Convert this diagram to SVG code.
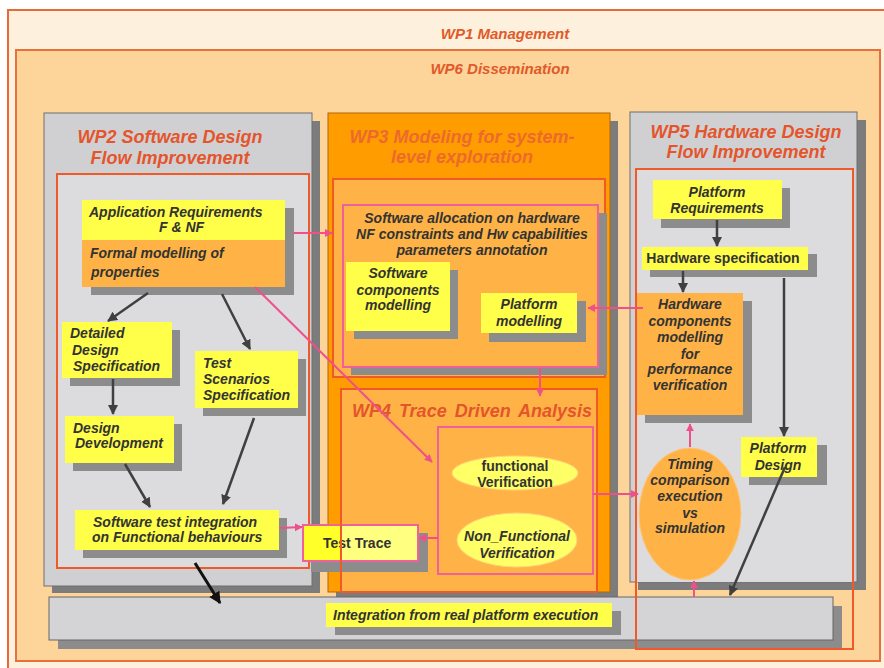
<svg xmlns="http://www.w3.org/2000/svg" width="884" height="668" viewBox="0 0 884 668">
  <defs>
    <marker id="ah" viewBox="0 0 10 10" refX="9" refY="5" markerWidth="4" markerHeight="4" orient="auto">
      <path d="M0,0 L10,5 L0,10 z" fill="#404040"/>
    </marker>
    <marker id="bh" viewBox="0 0 10 10" refX="9" refY="5" markerWidth="4" markerHeight="4" orient="auto">
      <path d="M0,0 L10,5 L0,10 z" fill="#111"/>
    </marker>
    <marker id="ph" viewBox="0 0 10 10" refX="9" refY="5" markerWidth="4" markerHeight="4" orient="auto">
      <path d="M0,0 L10,5 L0,10 z" fill="#f0508a"/>
    </marker>
  </defs>
  <style>
    text { font-family: "Liberation Sans", Arial, sans-serif; font-weight: bold; }
    .title { font-size: 18px; font-style: italic; fill: #e4552b; }
    .wp3t { fill: #ec6a2c; }
    .top { font-size: 15px; font-style: italic; fill: #e05a2a; }
    .lbl { font-size: 14px; font-style: italic; fill: #333; }
    .up { font-style: normal; }
    .mid { text-anchor: middle; }
    .sh { fill: #8c8c8c; }
    .bigsh { fill: #7c7c7c; }
    .yel { fill: #ffff4a; }
    .org { fill: #ffb347; }
    .gray { fill: #d0d0d2; stroke: #6e6e6e; stroke-width: 1; }
    .lgray { fill: #dcdcde; }
    .red { fill: none; stroke: #f05a28; stroke-width: 2; }
    .pink { fill: none; stroke: #f0609a; stroke-width: 2; }
    .arrow { stroke: #404040; stroke-width: 2.5; fill: none; marker-end: url(#ah); }
    .parrow { stroke: #f0508a; stroke-width: 2; fill: none; marker-end: url(#ph); }
  </style>

  <!-- WP1 / WP6 frames -->
  <g id="wp1">
    <rect x="8" y="10" width="880" height="670" fill="#fdf0dc" stroke="#e86a3a" stroke-width="2"/>
    <text class="top mid" x="505" y="39">WP1 Management</text>
  </g>
  <g id="wp6">
    <rect x="16" y="50" width="864" height="611" fill="#fdd49a" stroke="#e8703a" stroke-width="2"/>
    <text class="top mid" x="500" y="74">WP6 Dissemination</text>
  </g>

  <!-- WP2 -->
  <g id="wp2">
    <rect class="bigsh" x="52" y="121" width="268" height="472"/>
    <rect class="gray" x="44" y="113" width="268" height="473"/>
    <rect class="lgray" x="57" y="174" width="252" height="394"/>
    <rect class="red" x="57" y="174" width="252" height="394"/>
    <text class="title mid" x="170" y="143">WP2 Software Design</text>
    <text class="title mid" x="170" y="164">Flow Improvement</text>
  </g>

  <!-- WP3 -->
  <g id="wp3">
    <rect class="bigsh" x="336" y="121" width="282" height="479"/>
    <rect x="328" y="113" width="282" height="479" fill="#ff9c00" stroke="#b0660a" stroke-width="1"/>
    <text class="title wp3t mid" x="462" y="143">WP3 Modeling for system-</text>
    <text class="title wp3t mid" x="462" y="163">level exploration</text>
    <rect class="org" x="333" y="179" width="272" height="198"/>
    <rect class="red" x="333" y="179" width="272" height="198"/>
  </g>
  <g id="allocation">
    <rect class="sh" x="351" y="213" width="256" height="162"/>
    <rect class="org" x="343" y="205" width="255" height="162"/>
    <rect class="pink" x="343" y="205" width="255" height="162"/>
    <text class="lbl mid" x="472" y="223">Software allocation on hardware</text>
    <text class="lbl mid" x="472" y="239">NF constraints and Hw capabilities</text>
    <text class="lbl mid" x="472" y="255">parameters annotation</text>
  </g>

  <!-- WP4 -->
  <g id="wp4">
    <rect class="org" x="341" y="389" width="256" height="203"/>
    <text class="title mid" x="472" y="417" word-spacing="3">WP4 Trace Driven Analysis</text>
    <rect class="pink" x="438" y="427" width="155" height="147"/>
  </g>

  <!-- WP5 -->
  <g id="wp5">
    <rect class="bigsh" x="638" y="120" width="228" height="470"/>
    <rect class="gray" x="630" y="112" width="227" height="470"/>
    <rect class="lgray" x="636" y="169" width="217" height="413"/>
    <text class="title mid" x="746" y="138">WP5 Hardware Design</text>
    <text class="title mid" x="746" y="158">Flow Improvement</text>
  </g>

  <!-- Integration bar -->
  <g id="integration">
    <rect class="sh" x="58" y="606" width="784" height="43"/>
    <rect x="49" y="597" width="784" height="43" fill="#d4d4d6" stroke="#666" stroke-width="1"/>
    <rect class="sh" x="335" y="611" width="286" height="24"/>
    <rect class="yel" x="326" y="603" width="286" height="24"/>
    <text class="lbl" x="333" y="620">Integration from real platform execution</text>
  </g>

  <g id="wp5-frame">
    <rect class="red" x="636" y="169" width="217" height="480"/>
  </g>

  <!-- WP2 nodes -->
  <g id="app-req">
    <rect class="sh" x="91" y="208" width="203" height="87"/>
    <rect class="yel" x="82" y="200" width="203" height="40"/>
    <rect class="org" x="82" y="240" width="203" height="47"/>
    <text class="lbl" x="89" y="217">Application Requirements</text>
    <text class="lbl" x="159" y="232">F &amp; NF</text>
    <text class="lbl" x="90" y="258">Formal modelling of</text>
    <text class="lbl" x="91" y="277">properties</text>
  </g>
  <g id="detailed-design">
    <rect class="sh" x="70" y="330" width="110" height="56"/>
    <rect class="yel" x="62" y="322" width="110" height="56"/>
    <text class="lbl" x="70" y="338">Detailed</text>
    <text class="lbl" x="72" y="355">Design</text>
    <text class="lbl" x="73" y="371">Specification</text>
  </g>
  <g id="test-scenarios">
    <rect class="sh" x="203" y="359" width="103" height="57"/>
    <rect class="yel" x="195" y="351" width="103" height="57"/>
    <text class="lbl" x="203" y="368">Test</text>
    <text class="lbl" x="203" y="384">Scenarios</text>
    <text class="lbl" x="203" y="400">Specification</text>
  </g>
  <g id="design-dev">
    <rect class="sh" x="73" y="424" width="109" height="47"/>
    <rect class="yel" x="65" y="416" width="109" height="47"/>
    <text class="lbl" x="73" y="433">Design</text>
    <text class="lbl" x="75" y="448">Development</text>
  </g>
  <g id="sw-test">
    <rect class="sh" x="83" y="518" width="204" height="40"/>
    <rect class="yel" x="75" y="510" width="204" height="40"/>
    <text class="lbl" x="93" y="527">Software test integration</text>
    <text class="lbl" x="92" y="542">on Functional behaviours</text>
  </g>
  <g id="test-trace">
    <rect class="sh" x="311" y="533" width="117" height="39"/>
    <rect x="303" y="525" width="115" height="36" fill="#ffff80"/>
    <rect x="303" y="525" width="37" height="36" fill="#ffff2a"/>
    <rect class="pink" x="303" y="525" width="115" height="36"/>
    <text class="lbl up" x="323" y="548" fill="#111">Test Trace</text>
  </g>
  <g id="wp4-frame">
    <rect class="red" x="341" y="389" width="256" height="203"/>
  </g>

  <!-- WP3 nodes -->
  <g id="sw-components">
    <rect class="sh" x="354" y="270" width="104" height="69"/>
    <rect class="yel" x="346" y="262" width="104" height="69"/>
    <text class="lbl mid" x="398" y="278">Software</text>
    <text class="lbl mid" x="398" y="295">components</text>
    <text class="lbl mid" x="398" y="310">modelling</text>
  </g>
  <g id="platform-modelling">
    <rect class="sh" x="489" y="301" width="97" height="41"/>
    <rect class="yel" x="481" y="293" width="96" height="40"/>
    <text class="lbl mid" x="529" y="309">Platform</text>
    <text class="lbl mid" x="529" y="326">modelling</text>
  </g>

  <!-- WP4 nodes -->
  <g id="functional-ver">
    <ellipse cx="515" cy="473" rx="63" ry="17" fill="#ffff66" stroke="#ffd37a" stroke-width="1"/>
    <text class="lbl up mid" x="515" y="471">functional</text>
    <text class="lbl up mid" x="515" y="487">Verification</text>
  </g>
  <g id="nonfunctional-ver">
    <ellipse cx="517" cy="540" rx="60" ry="27" fill="#ffff66" stroke="#ffd37a" stroke-width="1"/>
    <text class="lbl mid" x="517" y="541">Non_Functional</text>
    <text class="lbl mid" x="517" y="558">Verification</text>
  </g>

  <!-- WP5 nodes -->
  <g id="platform-req">
    <rect class="sh" x="661" y="188" width="129" height="40"/>
    <rect class="yel" x="653" y="180" width="129" height="39"/>
    <text class="lbl mid" x="717" y="197">Platform</text>
    <text class="lbl mid" x="717" y="213">Requirements</text>
  </g>
  <g id="hw-spec">
    <rect class="sh" x="650" y="254" width="167" height="23"/>
    <rect class="yel" x="642" y="247" width="166" height="23"/>
    <text class="lbl up mid" x="723" y="263">Hardware specification</text>
  </g>
  <g id="hw-components">
    <rect class="sh" x="645" y="301" width="107" height="122"/>
    <rect class="org" x="637" y="293" width="106" height="122"/>
    <text class="lbl mid" x="690" y="309">Hardware</text>
    <text class="lbl mid" x="690" y="326">components</text>
    <text class="lbl mid" x="690" y="342">modelling</text>
    <text class="lbl mid" x="690" y="359">for</text>
    <text class="lbl mid" x="690" y="374">performance</text>
    <text class="lbl mid" x="690" y="390">verification</text>
  </g>
  <g id="timing">
    <ellipse cx="690" cy="514" rx="51" ry="66" fill="#ffb347" stroke="#ffc47a" stroke-width="1"/>
    <text class="lbl mid" x="690" y="469">Timing</text>
    <text class="lbl mid" x="690" y="485">comparison</text>
    <text class="lbl mid" x="690" y="501">execution</text>
    <text class="lbl mid" x="690" y="518">vs</text>
    <text class="lbl mid" x="690" y="533">simulation</text>
  </g>
  <g id="platform-design">
    <rect class="sh" x="749" y="445" width="78" height="40"/>
    <rect class="yel" x="741" y="437" width="76" height="40"/>
    <text class="lbl mid" x="778" y="453">Platform</text>
    <text class="lbl mid" x="778" y="470">Design</text>
  </g>

  <!-- Connectors -->
  <g id="connectors">
    <line class="arrow" x1="148" y1="293" x2="108" y2="321"/>
    <line class="arrow" x1="222" y1="294" x2="250" y2="349"/>
    <line class="arrow" x1="113" y1="379" x2="113" y2="414"/>
    <line class="arrow" x1="254" y1="418" x2="223" y2="504"/>
    <line class="arrow" x1="125" y1="464" x2="150" y2="507"/>
    <line x1="195" y1="563" x2="220" y2="603" stroke="#111" stroke-width="3" marker-end="url(#bh)"/>
    <line class="arrow" x1="717" y1="220" x2="717" y2="246"/>
    <line class="arrow" x1="683" y1="271" x2="683" y2="292"/>
    <line class="arrow" x1="784" y1="278" x2="784" y2="436"/>
    <line class="arrow" x1="785" y1="467" x2="730" y2="595"/>

    <line class="parrow" x1="294" y1="233" x2="332" y2="233"/>
    <line class="parrow" x1="255" y1="287" x2="432" y2="462"/>
    <line class="parrow" x1="280" y1="528" x2="302" y2="527"/>
    <line class="parrow" x1="438" y1="538" x2="419" y2="538"/>
    <line class="parrow" x1="540" y1="368" x2="540" y2="396"/>
    <line class="parrow" x1="593" y1="494" x2="638" y2="494"/>
    <line class="parrow" x1="643" y1="308" x2="588" y2="308"/>
    <line class="parrow" x1="690" y1="447" x2="690" y2="424"/>
    <line class="parrow" x1="694" y1="597" x2="694" y2="581"/>
  </g>
</svg>
